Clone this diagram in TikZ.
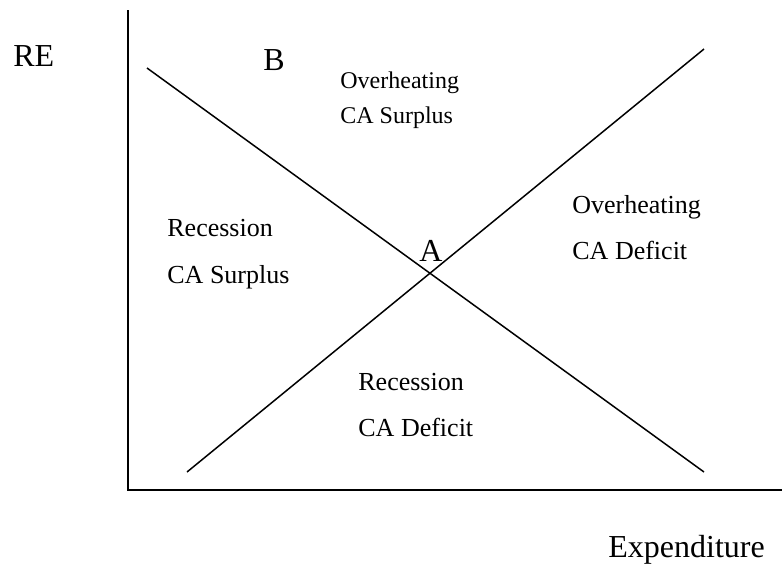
\documentclass[tikz,border=0pt]{standalone}
\usepackage{fontspec}
\setmainfont{Liberation Serif}
\usetikzlibrary{positioning}

\begin{document}
\begin{tikzpicture}[x=0.5pt, y=-0.5pt, axis/.style={line width=1pt}, schedule/.style={line width=0.75pt}, big/.style={font=\fontsize{16}{19}\selectfont, inner sep=0pt, anchor=base west}, zone/.style={font=\fontsize{13}{16}\selectfont, inner sep=0pt, anchor=base west}]
\tikzstyle{zonetop}=[zone, font=\fontsize{12}{14}\selectfont]
\useasboundingbox (0,0) rectangle (782,570);

\coordinate (O) at (128,490);
\coordinate (ytop) at (128,10);
\coordinate (xend) at (782,490);
\coordinate (IBa) at (147,68);
\coordinate (IBb) at (704,472);
\coordinate (EBa) at (187,472);
\coordinate (EBb) at (704,49);

% axes
\draw [axis] (ytop) -- (O) -- (xend);

% schedules
\draw [schedule] (IBa) -- (IBb);
\draw [schedule] (EBa) -- (EBb);

% axis labels and points
\node (RE) [big] at (13,66) {RE};
\node (Exp) [big] at (608,557) {Expenditure};
\node (B) [big] at (263,70) {B};
\node (A) [big] at (419,261) {A};

% zones
\node (top1) [zonetop] at (340,88) {Overheating};
\node (top2) [zonetop] at (340,123) {CA Surplus};
\node (left1) [zone] at (167,236) {Recession};
\node (left2) [zone] at (167,283) {CA Surplus};
\node (right1) [zone] at (572,213) {Overheating};
\node (right2) [zone] at (572,259) {CA Deficit};
\node (bot1) [zone] at (358,390) {Recession};
\node (bot2) [zone] at (358,436) {CA Deficit};
\end{tikzpicture}
\end{document}
